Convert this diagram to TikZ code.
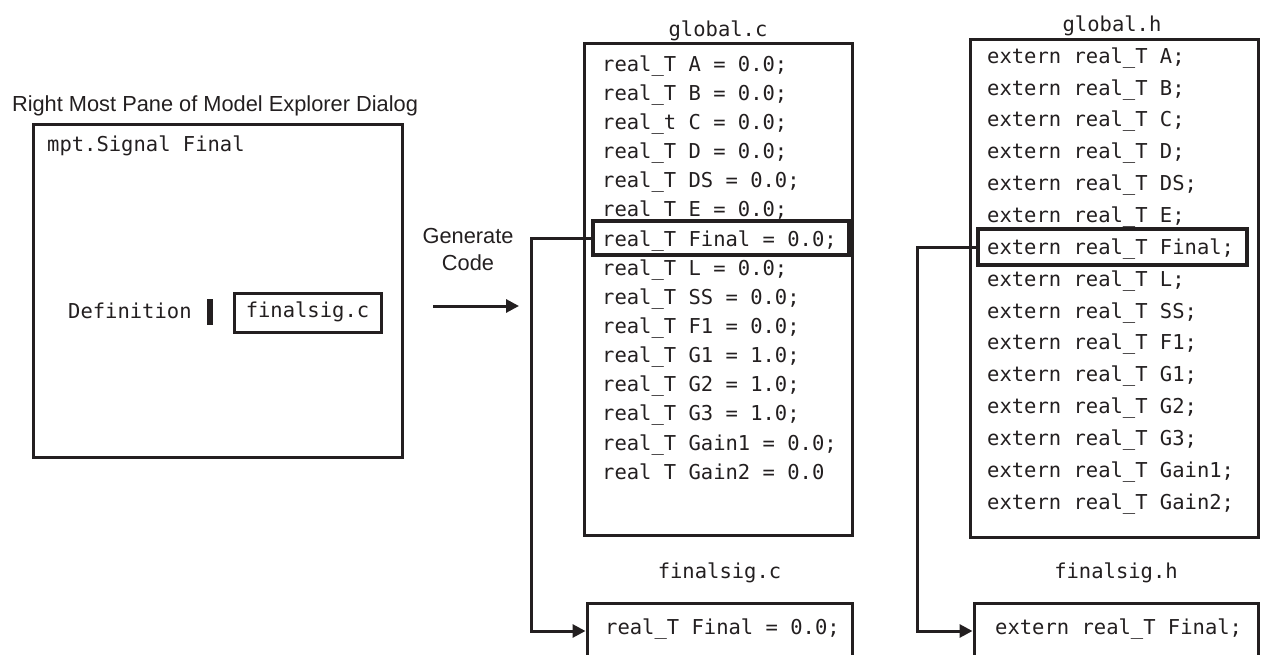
\documentclass[tikz,border=0pt]{standalone}
\usepackage{fontspec}
\usetikzlibrary{arrows.meta}
\newfontfamily\codefont{DejaVu Sans Mono}
\newfontfamily\labelfont{Liberation Sans}
\definecolor{ink}{HTML}{231F20}

\begin{document}
\begin{tikzpicture}[x=1pt, y=-1pt,
    every node/.style={inner sep=0pt, text=ink},
    filebox/.style={draw=ink, line width=3pt},
    hlbox/.style={draw=ink, line width=4.5pt},
    code/.style={font=\codefont\fontsize{20.5}{24}\selectfont, text height=15pt, text depth=4.5pt},
    caption/.style={font=\labelfont\fontsize{21.8}{27}\selectfont},
    link/.style={draw=ink, line width=3pt},
    tip/.style={-{Triangle[length=13pt,width=13pt]}}]
    \useasboundingbox (0,0) rectangle (1268,655);
    \clip (0,0) rectangle (1268,655);

    % model explorer pane
    \node[caption] (panetitle) at (215,106) {Right Most Pane of Model Explorer Dialog};
    \node[filebox, minimum width=369pt, minimum height=332pt] (pane) at (217.5,291) {};
        \node[code, anchor=west] (sig) at (47,146) {mpt.Signal Final};
        \node[code, anchor=west] (defn) at (68,313) {Definition};
        \node[fill=ink, minimum width=6pt, minimum height=26pt] (cursor) at (210,312) {};
        \node[filebox, code, minimum width=147pt, minimum height=39pt] (deffile) at (307.5,312.5) {finalsig.c};

    % generate code
    \node[caption, align=center] (gen) at (468,249) {Generate\\Code};
    \coordinate (genstart) at (433,306);
    \coordinate (genend) at (519,306);
    \draw[link, tip] (genstart) -- (genend);

    % global.c
    \node[code] (gctitle) at (718,31) {global.c};
    \node[filebox, minimum width=268pt, minimum height=491pt] (gc) at (718,289.5) {};
    \foreach \ln [count=\i] in {real\_T A = 0.0;, real\_T B = 0.0;, real\_t C = 0.0;,
        real\_T D = 0.0;, real\_T DS = 0.0;, real\_T E = 0.0;, real\_T Final = 0.0;,
        real\_T L = 0.0;, real\_T SS = 0.0;, real\_T F1 = 0.0;, real\_T G1 = 1.0;,
        real\_T G2 = 1.0;, real\_T G3 = 1.0;, real\_T Gain1 = 0.0;, real T Gain2 = 0.0}
        \node[code, anchor=west] (gc-\i) at (602,{66+29.14*(\i-1)}) {\ln};
    \node[hlbox, minimum width=256pt, minimum height=34pt] (hlc) at (721,238) {};

    % global.h
    \node[code] (ghtitle) at (1112,26) {global.h};
    \node[filebox, minimum width=288pt, minimum height=497pt] (gh) at (1114,288.5) {};
    \foreach \ln [count=\i] in {A, B, C, D, DS, E, Final, L, SS, F1, G1, G2, G3, Gain1, Gain2}
        \node[code, anchor=west] (gh-\i) at (987,{58+31.86*(\i-1)}) {extern real\_T \ln;};
    \node[hlbox, minimum width=269pt, minimum height=36pt] (hlh) at (1112.5,247) {};

    % finalsig.c and finalsig.h
    \node[code] (fsctitle) at (719.5,573) {finalsig.c};
    \node[filebox, minimum width=265pt, minimum height=56pt] (fsc) at (719.5,631) {};
        \node[code, anchor=west] (fscline) at (605,629) {real\_T Final = 0.0;};
    \node[code] (fshtitle) at (1116,573) {finalsig.h};
    \node[filebox, minimum width=284pt, minimum height=56pt] (fsh) at (1116,631) {};
        \node[code, anchor=west] (fshline) at (995,629) {extern real\_T Final;};

    \coordinate (cbend) at (531,0);
    \coordinate (hbend) at (917,0);
    \draw[link, tip] (hlc.west) -- (hlc.west -| cbend) |- (fsc.west);
    \draw[link, tip] (hlh.west) -- (hlh.west -| hbend) |- (fsh.west);
\end{tikzpicture}
\end{document}
